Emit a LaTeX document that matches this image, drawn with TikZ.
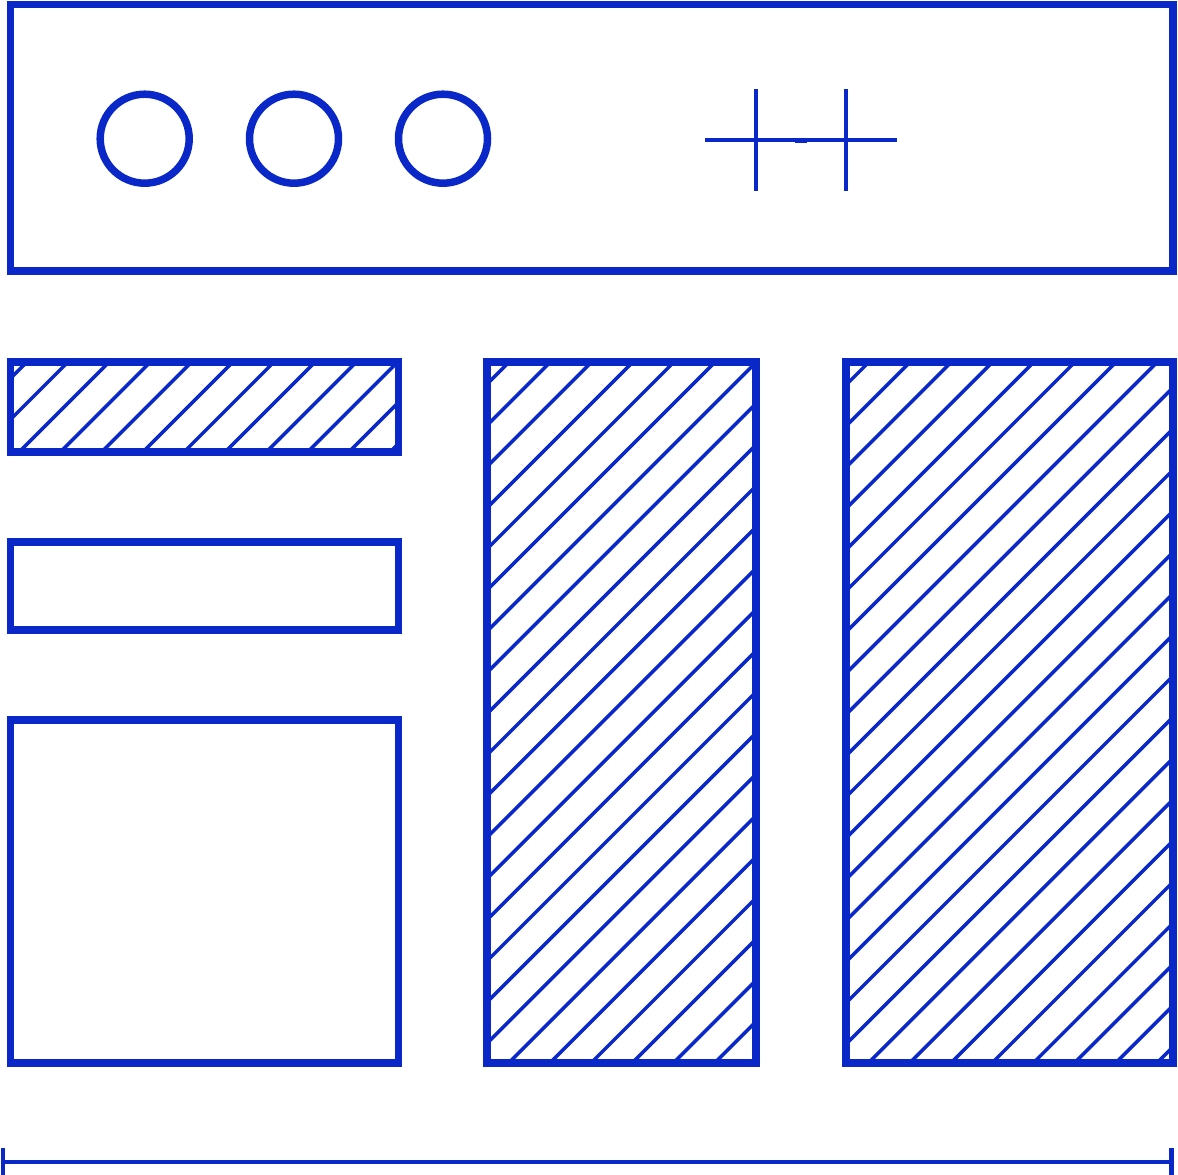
\documentclass[tikz,border=0pt]{standalone}
\begin{document}
\begin{tikzpicture}[x=1pt,y=-1pt,
  ink/.style={draw=blu,line width=7.5pt,outer sep=0pt,inner sep=0pt},
  hatchline/.style={draw=blu,line width=3.5pt},
  thin/.style={draw=blu,line width=3.5pt}]
\definecolor{blu}{RGB}{10,40,200}
\useasboundingbox (0,0) rectangle (1178,1175);
% top bar
\node[ink,minimum width=1162.5pt,minimum height=266.5pt,anchor=north west] (bar) at (10.5,4.5) {};
\foreach \cx/\n in {144.7/c1,294/c2,443/c3}
  \node[ink,circle,minimum size=89pt] (\n) at (\cx,138.7) {};
% cross symbol
\coordinate (hl) at (705,140); \coordinate (hr) at (897,140);
\coordinate (v1t) at (756,89); \coordinate (v1b) at (756,191);
\coordinate (v2t) at (846,89); \coordinate (v2b) at (846,191);
\coordinate (m1) at (795,140); \coordinate (m2) at (807,140);
\draw[thin] (hl) -- (hr);
\draw[thin] (v1t) -- (v1b);
\draw[thin] (v2t) -- (v2b);
\draw[draw=blu,line width=5pt] (m1) -- (m2);
% hatch macro
\newcommand{\hatchbox}[5]{% x1,y1,x2,y2,phase
  \begin{scope}
  \clip (#1,#2) rectangle (#3,#4);
  \foreach \k in {0,...,60}{
    \pgfmathsetmacro{\c}{#5+41.2*\k}
    \draw[hatchline] ({\c-#2},#2) -- ({\c-#4},#4);
  }
  \end{scope}}
\hatchbox{10.5}{362}{398.5}{452}{18}
\hatchbox{487}{362}{756}{1063}{6}
\hatchbox{846}{362}{1173}{1063}{-5}
% boxes
\node[ink,minimum width=388pt,minimum height=90pt,anchor=north west] (b1) at (10.5,362) {};
\node[ink,minimum width=388pt,minimum height=88pt,anchor=north west] (b2) at (10.5,542) {};
\node[ink,minimum width=388pt,minimum height=343pt,anchor=north west] (b3) at (10.5,720) {};
\node[ink,minimum width=269pt,minimum height=701pt,anchor=north west] (b4) at (487,362) {};
\node[ink,minimum width=327pt,minimum height=701pt,anchor=north west] (b5) at (846,362) {};
% bottom dimension line
\coordinate (dl) at (2.5,1161.5); \coordinate (dr) at (1171.5,1161.5);
\coordinate (dlt) at (2.5,1148); \coordinate (dlb) at (2.5,1175);
\coordinate (drt) at (1171.5,1148); \coordinate (drb) at (1171.5,1175);
\draw[draw=blu,line width=4pt] (dl) -- (dr);
\draw[draw=blu,line width=4pt] (dlt) -- (dlb);
\draw[draw=blu,line width=4.5pt] (drt) -- (drb);
\end{tikzpicture}
\end{document}
